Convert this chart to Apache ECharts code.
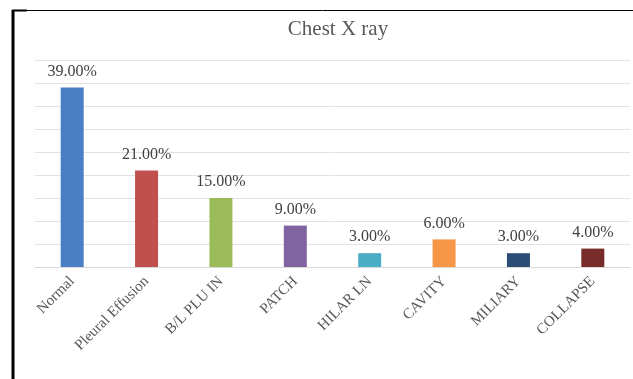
<!DOCTYPE html>
<html>
<head>
<meta charset="utf-8">
<script src="https://cdn.jsdelivr.net/npm/echarts@6/dist/echarts.min.js"></script>
<style>
  html, body { margin: 0; padding: 0; background: #fff; }
  #chart { width: 633px; height: 379px; }
</style>
</head>
<body>
<div id="chart"></div>
<script>
// Chest X-ray findings, share of patients (%)
const categories = ['Normal', 'Pleural Effusion', 'B/L PLU IN', 'PATCH', 'HILAR LN', 'CAVITY', 'MILIARY', 'COLLAPSE'];
const values = [39, 21, 15, 9, 3, 6, 3, 4];
const barColors = ['#4a7fc4', '#c0504d', '#9bbb59', '#8064a2', '#4bacc6', '#f79646', '#2c4d75', '#772c2a'];

const serif = '"Liberation Serif", "DejaVu Serif", serif';

const chart = echarts.init(document.getElementById('chart'), null, { renderer: 'canvas' });

chart.setOption({
  animation: false,
  backgroundColor: '#ffffff',
  title: {
    text: 'Chest X ray',
    left: 333,
    top: 14,
    textAlign: 'center',
    textStyle: { fontFamily: serif, fontSize: 21, fontWeight: 'normal', color: '#595959' }
  },
  grid: { left: 35, right: 3, top: 60, bottom: 112, containLabel: false },
  xAxis: {
    type: 'category',
    data: categories,
    axisLine: { lineStyle: { color: '#d9d9d9', width: 1 } },
    axisTick: { show: false },
    axisLabel: {
      rotate: 45,
      interval: 0,
      margin: 12,
      fontFamily: serif,
      fontSize: 15,
      color: '#595959'
    }
  },
  yAxis: {
    type: 'value',
    min: 0,
    max: 45,
    interval: 5,
    axisLine: { show: false },
    axisTick: { show: false },
    axisLabel: { show: false },
    splitLine: { lineStyle: { color: '#e3e3e3', width: 1 } }
  },
  series: [{
    type: 'bar',
    data: values.map((v, i) => ({ value: v, itemStyle: { color: barColors[i] } })),
    barWidth: 23,
    label: {
      show: true,
      position: 'top',
      distance: 8,
      formatter: p => p.value.toFixed(2) + '%',
      fontFamily: serif,
      fontSize: 16,
      color: '#404040'
    }
  }],
  graphic: [
    { type: 'line', shape: { x1: 12, y1: 10.5, x2: 633, y2: 10.5 }, style: { stroke: '#000', lineWidth: 1 } },
    { type: 'line', shape: { x1: 12, y1: 10.5, x2: 27, y2: 10.5 }, style: { stroke: '#000', lineWidth: 2 } },
    { type: 'line', shape: { x1: 13, y1: 10, x2: 13, y2: 379 }, style: { stroke: '#000', lineWidth: 3 } }
  ]
});
</script>
</body>
</html>
